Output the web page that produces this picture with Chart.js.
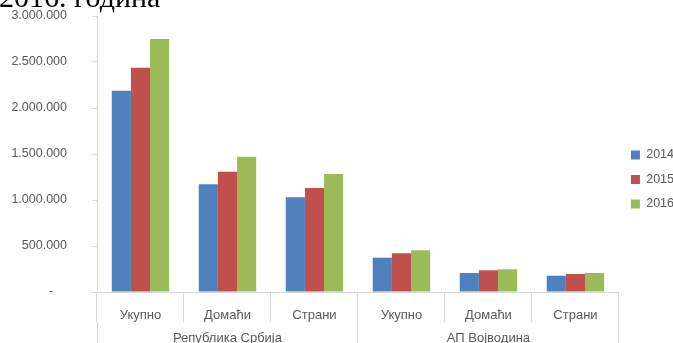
<!DOCTYPE html>
<html>
<head>
<meta charset="utf-8">
<script src="https://cdn.jsdelivr.net/npm/chart.js@4/dist/chart.umd.min.js"></script>
<style>
    html, body { margin: 0; padding: 0; background: #fff; overflow: hidden; }
    #wrap { position: relative; width: 673px; height: 343px; }
    #naslov {
        position: absolute; left: -1px; top: -18px;
        font: 30px/30px 'Liberation Serif', serif; color: #000; white-space: nowrap;
    }
</style>
</head>
<body>
<div id="wrap">
    <canvas id="turistiChart" width="673" height="343"></canvas>
    <div id="naslov">2016. година</div>
</div>
<script>
// Podaci
const kategorije = ['Укупно', 'Домаћи', 'Страни', 'Укупно', 'Домаћи', 'Страни'];
const grupe = ['Република Србија', 'АП Војводина'];
const godine = ['2014', '2015', '2016'];

const vrednosti2014 = [2188000, 1171000, 1029000, 373000, 207000, 177000];
const vrednosti2015 = [2438000, 1308000, 1130000, 421000, 236000, 196000];
const vrednosti2016 = [2750000, 1471000, 1283000, 453000, 247000, 207000];

const boje = ['#4F81BD', '#C0504D', '#9BBB59'];
const sivaLinija = '#D9D9D9';
const sivTekst = '#595959';

const formatBroj = (v) => v === 0 ? '-    ' : new Intl.NumberFormat('de-DE').format(v);

const ctx = document.getElementById('turistiChart').getContext('2d');
const turistiChart = new Chart(ctx, {
    type: 'bar',
    data: {
        labels: kategorije,
        datasets: [vrednosti2014, vrednosti2015, vrednosti2016].map((d, i) => ({
            label: godine[i],
            data: d,
            backgroundColor: boje[i],
            borderWidth: 0,
            categoryPercentage: 0.66,
            barPercentage: 1.0,
            xAxisID: 'x'
        }))
    },
    options: {
        responsive: false,
        animation: false,
        layout: { padding: { top: 16, right: -11, left: 0, bottom: 0 } },
        plugins: {
            tooltip: { enabled: false },
            legend: {
                position: 'right',
                labels: {
                    boxWidth: 9,
                    boxHeight: 9,
                    padding: 12,
                    color: sivTekst,
                    font: { family: "'Liberation Sans', sans-serif", size: 12.5 }
                }
            }
        },
        scales: {
            x: {
                type: 'category',
                position: 'bottom',
                afterFit: (s) => { s.height = 30; },
                border: { display: true, color: sivaLinija },
                grid: { offset: true, drawOnChartArea: false, tickLength: 30, color: sivaLinija },
                ticks: {
                    color: sivTekst, padding: -14, maxRotation: 0, autoSkip: false,
                    font: { family: "'Liberation Sans', sans-serif", size: 13 }
                }
            },
            x2: {
                type: 'category',
                position: 'bottom',
                labels: grupe,
                afterFit: (s) => { s.height = 21; },
                border: { display: false },
                grid: { offset: true, drawOnChartArea: false, tickLength: 21, color: sivaLinija },
                ticks: {
                    color: sivTekst, padding: -12, maxRotation: 0,
                    font: { family: "'Liberation Sans', sans-serif", size: 13 }
                }
            },
            y: {
                min: 0,
                max: 3000000,
                afterFit: (s) => {
                    s.width = 97;
                    s.paddingTop = 7;
                    s.paddingBottom = 7;
                },
                border: { display: true, color: sivaLinija },
                grid: { drawOnChartArea: false, tickLength: 5, color: sivaLinija },
                ticks: {
                    stepSize: 500000,
                    padding: 25,
                    color: sivTekst,
                    font: { family: "'Liberation Sans', sans-serif", size: 12.5 },
                    callback: (v) => formatBroj(v)
                }
            }
        }
    }
});
</script>
</body>
</html>
